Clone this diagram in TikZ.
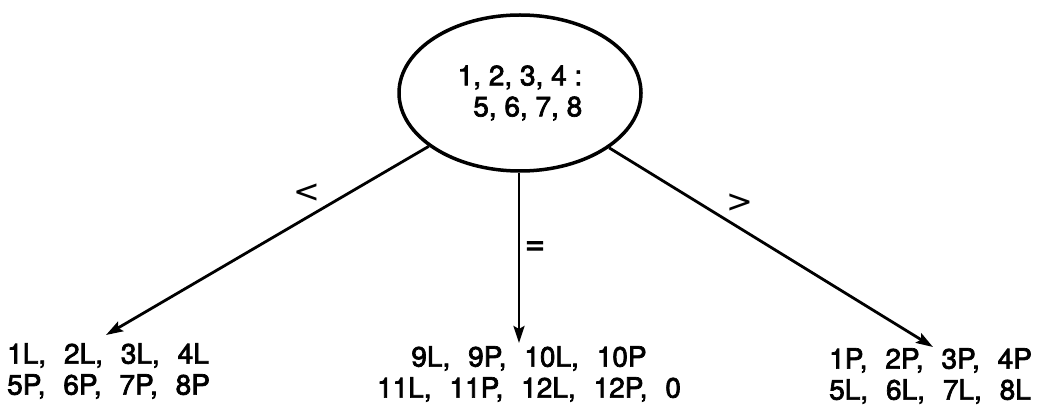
\documentclass[tikz,border=0pt]{standalone}
\usepackage{fontspec}
\setmainfont{TeX Gyre Heros}[FakeBold=2.5]
\newfontfamily\relfont{DejaVu Sans}
\usetikzlibrary{shapes.geometric,arrows.meta}
% wider gap between the items of a list
\newcommand\itemsp{\hspace*{0.64em}}
\begin{document}
\begin{tikzpicture}[x=1pt,y=-1pt,
  txt/.style={font=\fontsize{28}{31}\selectfont, inner sep=0pt},
  rel/.style={font=\relfont\fontsize{32}{32}\selectfont, inner sep=0pt},
  branch/.style={line width=2.8pt, -{Stealth[length=17pt,width=11pt,inset=3pt]}},
]
\useasboundingbox (0,0) rectangle (1043,414);

% the weighing
\node[draw, ellipse, line width=3.5pt, minimum width=242pt, minimum height=156pt,
      align=right, txt] (root) at (520,93) {1, 2, 3, 4 :\\5, 6, 7, 8};

% outcomes
\node[txt, anchor=north west, align=left] (lt) at (7,343)
  {1L,\itemsp 2L,\itemsp 3L,\itemsp 4L\\5P,\itemsp 6P,\itemsp 7P,\itemsp 8P};
\node[txt, anchor=north, align=center] (mt) at (529,346)
  {9L,\itemsp 9P,\itemsp 10L,\itemsp 10P\\11L,\itemsp 11P,\itemsp 12L,\itemsp 12P,\itemsp 0};
\node[txt, anchor=north west, align=left] (rt) at (829,348)
  {1P,\itemsp 2P,\itemsp 3P,\itemsp 4P\\5L,\itemsp 6L,\itemsp 7L,\itemsp 8L};

% arrow tips just above the outcomes
\coordinate (ltip) at (106,335);
\coordinate (mtip) at (519,343);
\coordinate (rtip) at (933,347);

\draw[branch] (root) -- (ltip);
\draw[branch] (root.south -| mtip) -- (mtip);
\draw[branch] (root) -- (rtip);

% branch labels
\node[rel] (lless) at (307,193) {<};
\node[txt, font=\fontsize{34}{34}\selectfont] (lequal) at (535,248) {=};
\node[rel] (lmore) at (740,203) {>};
\end{tikzpicture}
\end{document}
